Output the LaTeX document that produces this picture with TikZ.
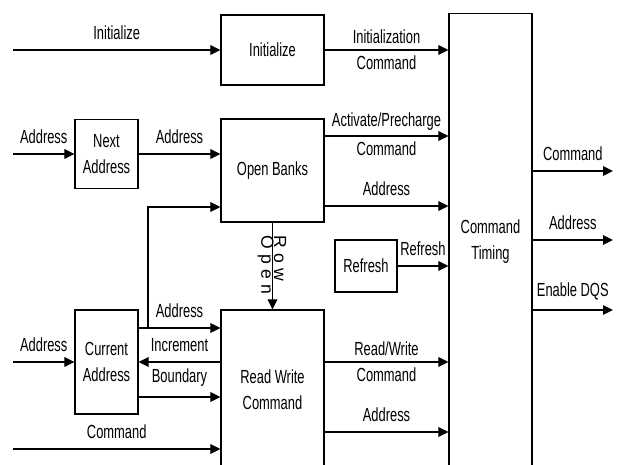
\documentclass[tikz,border=0pt]{standalone}
\usepackage{fontspec}
\setmainfont{Liberation Sans}[FakeStretch=0.68]
\newfontfamily\rowfont[LetterSpace=30]{Liberation Sans}
\usetikzlibrary{arrows.meta}

\begin{document}
\begin{tikzpicture}[
  x=0.025cm, y=-0.025cm,
  block/.style={draw=black,line width=0.8pt,inner sep=0pt,align=center,font=\fontsize{13.5}{18.4}\selectfont},
  sig/.style={draw=black,line width=0.8pt,-{Triangle[length=0.25cm,width=0.24cm]}},
  lbl/.style={font=\fontsize{13.5}{16}\selectfont,align=center},
  uplbl/.style={lbl,above=3.5pt},
  uplbltwo/.style={lbl,above=0.5pt},
  downlbl/.style={lbl,below}
]
\fill[white] (0,0) rectangle (620,465);
\useasboundingbox (0,0) rectangle (620,465);
\clip (0,0) rectangle (620,465);
% blocks
\node[block,minimum width=2.575cm,minimum height=1.75cm] (initbox) at (272.5,50) {Initialize};
\node[block,minimum width=2.575cm,minimum height=2.575cm] (openbanks) at (272.5,170.5) {Open Banks};
\node[block,minimum width=1.575cm,minimum height=1.725cm] (nextaddr) at (106.5,154) {Next\\Address};
\node[block,minimum width=1.575cm,minimum height=2.6cm] (curaddr) at (106.5,362) {Current\\Address};
\node[block,minimum width=2.575cm,minimum height=4cm] (rwcmd) at (272.5,390) {Read Write\\Command};
\node[block,minimum width=1.55cm,minimum height=1.3cm] (refresh) at (366,266) {Refresh};
\node[block,minimum width=2.075cm,minimum height=11.4cm] (timing) at (490.5,242) {Command\\Timing};
% signal ends and levels
\coordinate (inInit) at (13,50); \coordinate (inNext) at (13,154); \coordinate (inCur) at (13,362); \coordinate (inCmd) at (13,449);
\coordinate (outCmd) at (613,171); \coordinate (outAddr) at (613,240); \coordinate (outDqs) at (613,310);
\coordinate (yAct) at (0,136); \coordinate (yObAddr) at (0,206); \coordinate (yFb) at (0,207);
\coordinate (yCurOut) at (0,328); \coordinate (yInc) at (0,362); \coordinate (yBnd) at (0,397); \coordinate (yRwAddr) at (0,432);
\coordinate (fork) at (148,328);
% left side
\draw[sig] (inInit) -- (initbox.west) node[uplbl,midway] (tInit) {Initialize};
\draw[sig] (inNext) -- (nextaddr.west) node[uplbl,midway] (tNextIn) {Address};
\draw[sig] (nextaddr.east) -- (nextaddr.east -| openbanks.west) node[uplbl,midway] (tNextOut) {Address};
\draw[sig] (fork) |- (openbanks.west |- yFb);
\draw[sig] (inCur) -- (curaddr.west) node[uplbl,midway] (tCurIn) {Address};
\draw[sig] (curaddr.east |- yCurOut) -- (rwcmd.west |- yCurOut) node[uplbl,midway] (tCurOut) {Address};
\draw[sig] (rwcmd.west |- yInc) -- (curaddr.east |- yInc) node[uplbl,midway] (tInc) {Increment};
\draw[sig] (curaddr.east |- yBnd) -- (rwcmd.west |- yBnd) node[uplbl,midway] (tBnd) {Boundary};
\draw[sig] (inCmd) -- (rwcmd.west |- inCmd) node[uplbl,midway] (tCmdIn) {Command};
% middle
\draw[sig] (openbanks.south) -- (rwcmd.north);
\node[font=\rowfont\fontsize{12.5}{9.2}\selectfont,rotate=-90,align=left,inner sep=0pt] (tRow) at (272,265) {Row\\Open};
\draw[sig] (initbox.east) -- (initbox.east -| timing.west) node[uplbltwo,midway] (tInitCmd) {Initialization} node[downlbl,midway] (tInitCmd2) {Command};
\draw[sig] (openbanks.east |- yAct) -- (timing.west |- yAct) node[uplbltwo,midway] (tAct) {Activate/Precharge} node[downlbl,midway] (tAct2) {Command};
\draw[sig] (openbanks.east |- yObAddr) -- (timing.west |- yObAddr) node[uplbl,midway] (tObAddr) {Address};
\draw[sig] (refresh.east) -- (refresh.east -| timing.west) node[uplbl,midway] (tRef) {Refresh};
\draw[sig] (rwcmd.east |- yInc) -- (timing.west |- yInc) node[uplbltwo,midway] (tRw) {Read/Write} node[downlbl,midway] (tRw2) {Command};
\draw[sig] (rwcmd.east |- yRwAddr) -- (timing.west |- yRwAddr) node[uplbl,midway] (tRwAddr) {Address};
% right side
\draw[sig] (timing.east |- outCmd) -- (outCmd) node[uplbl,midway] (tOutCmd) {Command};
\draw[sig] (timing.east |- outAddr) -- (outAddr) node[uplbl,midway] (tOutAddr) {Address};
\draw[sig] (timing.east |- outDqs) -- (outDqs) node[uplbl,midway] (tOutDqs) {Enable DQS};
\end{tikzpicture}
\end{document}
